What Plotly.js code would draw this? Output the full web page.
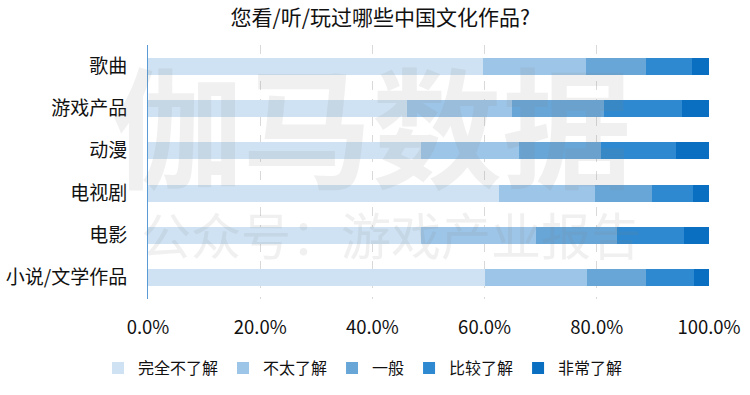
<!DOCTYPE html>
<html>
<head>
<meta charset="utf-8">
<script src="https://cdn.plot.ly/plotly-3.0.1.min.js"></script>
<style>body{margin:0;padding:0;background:#fff;}#chart{width:750px;height:395px;}</style>
</head>
<body>
<div id="chart"></div>
<script>
const categories = ["歌曲", "游戏产品", "动漫", "电视剧", "电影", "小说/文学作品"];
const seriesNames = ["完全不了解", "不太了解", "一般", "比较了解", "非常了解"];
const v_none   = [59.7, 46.1, 48.6, 62.6, 48.7, 60.1];
const v_little = [18.3, 18.8, 17.5, 17.1, 20.5, 18.1];
const v_avg    = [10.7, 16.4, 14.6, 10.1, 14.4, 10.6];
const v_some   = [8.3, 13.8, 13.4, 7.4, 12.0, 8.6];
const v_very   = [3.0, 4.9, 5.9, 2.8, 4.4, 2.6];
const tickVals = [0, 20, 40, 60, 80, 100];
const tickText = ["0.0%", "20.0%", "40.0%", "60.0%", "80.0%", "100.0%"];

const colors = ["#cfe2f3", "#9dc5e7", "#68a6d8", "#2f89d0", "#0b6fc1"];
const values = [v_none, v_little, v_avg, v_some, v_very];
const font = "'Noto Sans CJK SC', 'Noto Sans', sans-serif";

const traces = values.map((vals, i) => ({
  type: "bar",
  orientation: "h",
  name: seriesNames[i],
  y: categories,
  x: vals,
  marker: {color: colors[i], line: {width: 0}},
  hoverinfo: "x+y+name"
}));

const layout = {
  width: 750, height: 395,
  margin: {l: 148, r: 41, t: 45, b: 96, autoexpand: false},
  paper_bgcolor: "#fff", plot_bgcolor: "rgba(0,0,0,0)",
  barmode: "stack",
  bargap: 0.6,
  showlegend: true,
  title: {text: "您看/听/玩过哪些中国文化作品?", x: 0.507, xanchor: "center", y: 0.955, yanchor: "middle",
          font: {family: font, size: 21, color: "#111"}},
  xaxis: {
    range: [0, 100], tickvals: tickVals, ticktext: tickText,
    showgrid: true, gridcolor: "#d9d9d9", griddash: "dash", gridwidth: 1,
    zeroline: false, showline: false, ticks: "",
    ticklabelstandoff: 15,
    tickfont: {family: font, size: 18.5, color: "#111"}
  },
  yaxis: {
    autorange: "reversed", type: "category",
    showline: true, linecolor: "#5b9bd5", linewidth: 1,
    showgrid: false, zeroline: false, ticks: "",
    ticklabelstandoff: 16,
    tickfont: {family: font, size: 19, color: "#111"}
  },
  legend: {
    orientation: "h", xref: "container", yref: "paper",
    x: 0.484, xanchor: "center", y: -0.272, yanchor: "middle",
    font: {family: font, size: 16, color: "#111"},
    itemwidth: 30, traceorder: "normal", itemclick: false
  },
  annotations: [
    {text: "伽马数据", xref: "paper", yref: "paper", x: 0.40, y: 0.70, xanchor: "center", yanchor: "middle",
     showarrow: false,
     font: {family: font, size: 130, color: "rgba(128,128,128,0.12)", weight: 700}},
    {text: "公众号：游戏产业报告", xref: "paper", yref: "paper", x: 0.433, y: 0.26, xanchor: "center", yanchor: "middle",
     showarrow: false,
     font: {family: font, size: 50, color: "rgba(128,128,128,0.12)"}}
  ]
};

Plotly.newPlot("chart", traces, layout, {displayModeBar: false, staticPlot: true});
</script>
</body>
</html>
